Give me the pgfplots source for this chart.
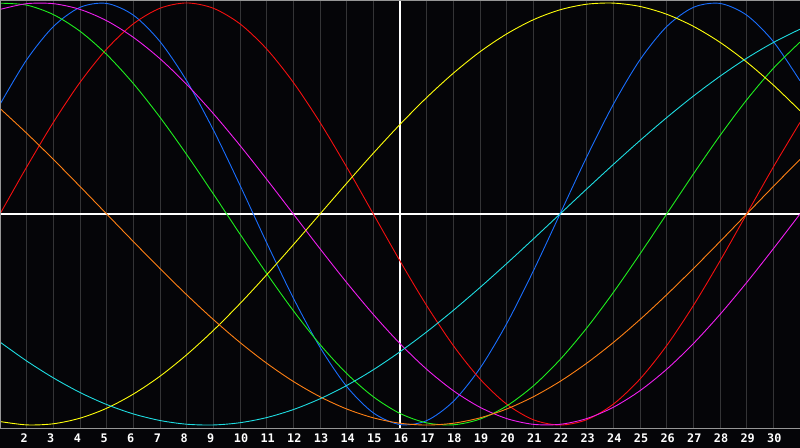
\documentclass[border=0pt]{standalone}
\usepackage{pgfplots}
\pgfplotsset{compat=1.18}
\usepackage{fontspec}
\newfontfamily\tickfont{DejaVu Sans Mono}
\definecolor{bg}{RGB}{5,5,8}
\definecolor{gridc}{RGB}{52,52,54}
\definecolor{borderc}{RGB}{150,150,150}
\definecolor{cblue}{RGB}{25,110,255}
\definecolor{cred}{RGB}{245,15,15}
\definecolor{cgreen}{RGB}{30,240,30}
\definecolor{cmag}{RGB}{240,30,240}
\definecolor{cyel}{RGB}{255,255,10}
\definecolor{corange}{RGB}{255,128,20}
\definecolor{ccyan}{RGB}{30,220,225}
\begin{document}
\begin{tikzpicture}
\fill[bg] (0,-20bp) rectangle (800bp,428bp);
\begin{axis}[
  at={(0,0)}, anchor=south west,
  width=800bp, height=428bp, scale only axis,
  xmin=1, xmax=31, ymin=-1.014, ymax=1.014,
  xtick={2,...,30},
  xticklabels={2,3,4,5,6,7,8,9,10,11,12,13,14,15,16,17,18,19,20,21,22,23,24,25,26,27,28,29,30},
  ytick=\empty,
  major tick length=0pt,
  xmajorgrids,
  grid style={gridc, line width=1bp},
  axis line style={draw=none},
  xticklabel style={font=\tickfont\bfseries\fontsize{11.8bp}{12bp}\selectfont, text=white, anchor=base west, inner sep=0pt, xshift=-6.3bp, yshift=-14.8bp},
  every axis plot/.append style={line width=0.9bp, smooth, no markers},
]
\addplot[white, line width=1.2bp, sharp plot] coordinates {(16,-1.1) (16,1.1)};
\addplot[white, line width=1.2bp, sharp plot] coordinates {(0,0) (32,0)};
% physical 23
\addplot[cblue] coordinates {(1,0.5196)(2,0.7308)(3,0.8879)(4,0.9791)(5,0.9977)(6,0.9423)(7,0.8170)(8,0.6311)(9,0.3984)(10,0.1362)(11,-0.1362)(12,-0.3984)(13,-0.6311)(14,-0.8170)(15,-0.9423)(16,-0.9977)(17,-0.9791)(18,-0.8879)(19,-0.7308)(20,-0.5196)(21,-0.2698)(22,0)(23,0.2698)(24,0.5196)(25,0.7308)(26,0.8879)(27,0.9791)(28,0.9977)(29,0.9423)(30,0.8170)(31,0.6311)};
% emotional 28
\addplot[cred] coordinates {(1,0)(2,0.2225)(3,0.4339)(4,0.6235)(5,0.7818)(6,0.9010)(7,0.9749)(8,1)(9,0.9749)(10,0.9010)(11,0.7818)(12,0.6235)(13,0.4339)(14,0.2225)(15,0)(16,-0.2225)(17,-0.4339)(18,-0.6235)(19,-0.7818)(20,-0.9010)(21,-0.9749)(22,-1)(23,-0.9749)(24,-0.9010)(25,-0.7818)(26,-0.6235)(27,-0.4339)(28,-0.2225)(29,0)(30,0.2225)(31,0.4339)};
% intellectual 33
\addplot[cgreen] coordinates {(1,0.9989)(2,0.9898)(3,0.9450)(4,0.8660)(5,0.7557)(6,0.6182)(7,0.4582)(8,0.2817)(9,0.0951)(10,-0.0951)(11,-0.2817)(12,-0.4582)(13,-0.6182)(14,-0.7557)(15,-0.8660)(16,-0.9450)(17,-0.9898)(18,-0.9989)(19,-0.9718)(20,-0.9096)(21,-0.8146)(22,-0.6901)(23,-0.5406)(24,-0.3717)(25,-0.1893)(26,0)(27,0.1893)(28,0.3717)(29,0.5406)(30,0.6901)(31,0.8146)};
% intuitive 38
\addplot[cmag] coordinates {(1,0.9694)(2,0.9966)(3,0.9966)(4,0.9694)(5,0.9158)(6,0.8372)(7,0.7357)(8,0.6142)(9,0.4759)(10,0.3247)(11,0.1646)(12,0)(13,-0.1646)(14,-0.3247)(15,-0.4759)(16,-0.6142)(17,-0.7357)(18,-0.8372)(19,-0.9158)(20,-0.9694)(21,-0.9966)(22,-0.9966)(23,-0.9694)(24,-0.9158)(25,-0.8372)(26,-0.7357)(27,-0.6142)(28,-0.4759)(29,-0.3247)(30,-0.1646)(31,0)};
% aesthetic 43
\addplot[cyel] coordinates {(1,-0.9834)(2,-0.9993)(3,-0.9940)(4,-0.9675)(5,-0.9204)(6,-0.8533)(7,-0.7687)(8,-0.6671)(9,-0.5518)(10,-0.4245)(11,-0.2881)(12,-0.1456)(13,0)(14,0.1456)(15,0.2881)(16,0.4245)(17,0.5518)(18,0.6671)(19,0.7687)(20,0.8533)(21,0.9204)(22,0.9675)(23,0.9940)(24,0.9993)(25,0.9834)(26,0.9465)(27,0.8894)(28,0.8135)(29,0.7200)(30,0.6111)(31,0.4894)};
% awareness 48
\addplot[corange] coordinates {(1,0.5)(2,0.3827)(3,0.2588)(4,0.1305)(5,0)(6,-0.1305)(7,-0.2588)(8,-0.3827)(9,-0.5)(10,-0.6088)(11,-0.7071)(12,-0.7934)(13,-0.8660)(14,-0.9239)(15,-0.9659)(16,-0.9914)(17,-1)(18,-0.9914)(19,-0.9659)(20,-0.9239)(21,-0.8660)(22,-0.7934)(23,-0.7071)(24,-0.6088)(25,-0.5)(26,-0.3827)(27,-0.2588)(28,-0.1305)(29,0)(30,0.1305)(31,0.2588)};
% spiritual 53
\addplot[ccyan] coordinates {(1,-0.6068)(2,-0.6965)(3,-0.7764)(4,-0.8457)(5,-0.9028)(6,-0.9473)(7,-0.9785)(8,-0.9961)(9,-0.9996)(10,-0.9890)(11,-0.9646)(12,-0.9267)(13,-0.8757)(14,-0.8126)(15,-0.7380)(16,-0.6527)(17,-0.5586)(18,-0.4566)(19,-0.3482)(20,-0.2349)(21,-0.1183)(22,0)(23,0.1183)(24,0.2349)(25,0.3482)(26,0.4566)(27,0.5586)(28,0.6527)(29,0.7380)(30,0.8126)(31,0.8757)};
\end{axis}
\draw[borderc, line width=1bp] (0,0.0bp) -- (800bp,0bp);
\draw[borderc, line width=1bp] (0.5bp,0) -- (0.5bp,427.5bp) -- (800bp,427.5bp);
\pgfresetboundingbox
\useasboundingbox (0,-20bp) rectangle (800bp,428bp);
\end{tikzpicture}
\end{document}
